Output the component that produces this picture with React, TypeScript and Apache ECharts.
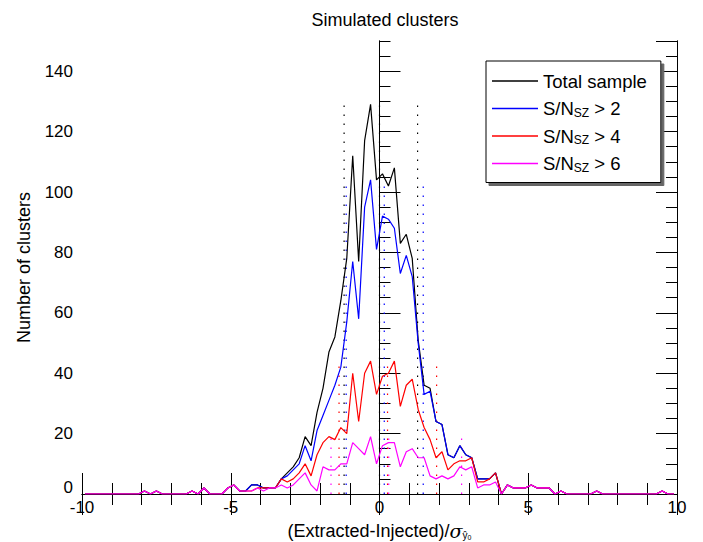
import React, { useEffect, useRef } from "react";
import * as echarts from "echarts";

const FONT = "'Liberation Sans', Arial, Helvetica, sans-serif";

// bin centres of the histogram (bin width 0.2 from -10 to 10)
const binCenters: number[] = Array.from({ length: 100 }, (_, i) => Number((-9.9 + 0.2 * i).toFixed(1)));

const totalSample = [
  0, 0, 0, 0, 0, 0, 0, 0, 0, 0,
  1, 0, 1, 0, 0, 0, 0, 0, 1, 0,
  2, 0, 0, 0, 2, 3, 1, 1, 3, 3,
  2, 2, 2, 5, 7, 9, 12, 19, 16, 27,
  35, 47, 52, 64, 78, 112, 77, 117, 129, 104,
  106, 102, 108, 83, 86, 78, 51, 36, 35, 24,
  23, 13, 12, 16, 13, 12, 5, 5, 5, 7,
  0, 3, 2, 2, 2, 3, 2, 2, 2, 0,
  1, 0, 0, 0, 0, 0, 1, 0, 0, 0,
  0, 0, 0, 0, 0, 0, 0, 1, 0, 0,
];
const snGt2 = [
  0, 0, 0, 0, 0, 0, 0, 0, 0, 0,
  1, 0, 1, 0, 0, 0, 0, 0, 1, 0,
  2, 0, 0, 0, 2, 3, 1, 1, 3, 3,
  2, 2, 2, 5, 6, 8, 10, 16, 11, 21,
  26, 31, 36, 42, 57, 77, 58, 95, 104, 81,
  92, 91, 88, 73, 79, 72, 50, 33, 34, 24,
  23, 13, 12, 16, 13, 12, 5, 5, 5, 7,
  0, 3, 2, 2, 2, 3, 2, 2, 2, 0,
  1, 0, 0, 0, 0, 0, 1, 0, 0, 0,
  0, 0, 0, 0, 0, 0, 0, 1, 0, 0,
];
const snGt4 = [
  0, 0, 0, 0, 0, 0, 0, 0, 0, 0,
  1, 0, 1, 0, 0, 0, 0, 0, 1, 0,
  2, 0, 0, 0, 2, 3, 1, 1, 1, 2,
  2, 2, 2, 5, 4, 5, 7, 10, 6, 13,
  17, 19, 18, 22, 20, 40, 24, 40, 44, 33,
  39, 40, 44, 29, 36, 38, 28, 22, 18, 12,
  14, 8, 10, 11, 11, 12, 4, 4, 5, 7,
  0, 3, 2, 2, 2, 3, 2, 2, 2, 0,
  1, 0, 0, 0, 0, 0, 1, 0, 0, 0,
  0, 0, 0, 0, 0, 0, 0, 1, 0, 0,
];
const snGt6 = [
  0, 0, 0, 0, 0, 0, 0, 0, 0, 0,
  1, 0, 1, 0, 0, 0, 0, 0, 1, 0,
  2, 0, 0, 0, 2, 3, 1, 1, 1, 2,
  1, 2, 2, 3, 2, 3, 5, 7, 3, 1,
  9, 8, 8, 10, 10, 17, 15, 13, 19, 10,
  16, 17, 17, 9, 14, 15, 12, 12, 6, 5,
  6, 5, 6, 9, 8, 9, 2, 3, 3, 4,
  0, 3, 2, 2, 2, 3, 2, 2, 2, 0,
  1, 0, 0, 0, 0, 0, 1, 0, 0, 0,
  0, 0, 0, 0, 0, 0, 0, 1, 0, 0,
];

// positions of the dotted vertical markers (lower, centre, upper) for each sample
const markTotal = [-1.19, 0.0, 1.28];
const markGt2 = [-1.12, 0.16, 1.47];
const markGt4 = [-1.36, 0.27, 1.92];
const markGt6 = [-1.63, 0.31, 2.76];

const seriesNames = ["Total sample", "S/N_SZ > 2", "S/N_SZ > 4", "S/N_SZ > 6"];
const seriesColors = ["#000000", "#0000ff", "#ff0000", "#ff00ff"];
const legendLabels: Record<string, string> = {
  "Total sample": "Total sample",
  "S/N_SZ > 2": "S/N{sub|SZ} > 2",
  "S/N_SZ > 4": "S/N{sub|SZ} > 4",
  "S/N_SZ > 6": "S/N{sub|SZ} > 6",
};

export default function App() {
  const ref = useRef<HTMLDivElement>(null);
  useEffect(() => {
    if (!ref.current) return;
    const chart = echarts.init(ref.current, undefined, { renderer: "svg" });
    const all = [totalSample, snGt2, snGt4, snGt6];
    const marks = [markTotal, markGt2, markGt4, markGt6];

    const dotted: any[] = [];
    marks.forEach((m, k) => {
      const h = Math.max(...all[k]);
      m.forEach((x) => {
        dotted.push({
          type: "line",
          name: "mark" + k,
          data: [[x, 0], [x, h]],
          showSymbol: false,
          silent: true,
          z: 1,
          lineStyle: { color: seriesColors[k], width: 1.2, type: [1.5, 7.5] },
        });
      });
    });

    const hist = all.map((vals, k) => ({
      type: "line",
      name: seriesNames[k],
      data: vals.map((v, i) => [binCenters[i], v]),
      showSymbol: false,
      color: seriesColors[k],
      itemStyle: { color: seriesColors[k] },
      lineStyle: { color: seriesColors[k], width: 1.2 },
      z: 2 + k,
    }));

    const tickStyle = { color: "#000", width: 1 };
    const baseY = {
      type: "value",
      min: 0,
      max: 150,
      splitLine: { show: false },
      axisLine: { show: true, lineStyle: { color: "#000", width: 1 } },
    };

    chart.setOption({
      animation: false,
      title: {
        text: "Simulated clusters",
        left: 380,
        top: 6,
        textAlign: "center",
        textStyle: { fontFamily: FONT, fontSize: 18, fontWeight: "normal", color: "#000" },
      },
      grid: { left: 82, right: 26, top: 41, bottom: 48, containLabel: false, outerBoundsMode: "none" },
      legend: {
        data: seriesNames,
        orient: "vertical",
        left: 486,
        top: 61,
        backgroundColor: "#fff",
        borderColor: "#000",
        borderWidth: 1,
        shadowColor: "#666",
        shadowOffsetX: 3,
        shadowOffsetY: 3,
        shadowBlur: 0,
        padding: [10, 14, 9, 6],
        itemGap: 7.5,
        itemWidth: 46,
        itemHeight: 1.5,
        icon: "rect",
        formatter: (n: string) => legendLabels[n],
        textStyle: {
          fontFamily: FONT,
          fontSize: 18.5,
          color: "#000",
          lineHeight: 20,
          rich: {
            sub: { fontFamily: FONT, fontSize: 12, lineHeight: 10, verticalAlign: "bottom", color: "#000" },
          },
        },
      },
      xAxis: [
        {
          type: "value",
          min: -10,
          max: 10,
          interval: 5,
          position: "bottom",
          splitLine: { show: false },
          axisLine: { show: true, lineStyle: { color: "#000", width: 1 } },
          axisTick: { show: true, inside: true, length: 21, lineStyle: tickStyle },
          minorTick: { show: true, splitNumber: 5, length: 11, lineStyle: tickStyle },
          axisLabel: { fontFamily: FONT, fontSize: 17, color: "#000", margin: 5 },
          name: "(Extracted-Injected)/{s|σ}{sub|ŷ}{sub2|0}",
          nameLocation: "middle",
          nameGap: 24,
          nameTextStyle: {
            fontFamily: FONT,
            fontSize: 18,
            color: "#000",
            lineHeight: 20,
            rich: {
              s: { fontFamily: "'DejaVu Serif', serif", fontSize: 19, fontStyle: "italic", color: "#000", lineHeight: 20 },
              sub: { fontFamily: FONT, fontSize: 10, lineHeight: 8, verticalAlign: "bottom", color: "#000" },
              sub2: { fontFamily: FONT, fontSize: 7, lineHeight: 2, verticalAlign: "bottom", color: "#000" },
            },
          },
        },
        {
          type: "value",
          min: -10,
          max: 10,
          interval: 5,
          position: "top",
          splitLine: { show: false },
          axisLine: { show: true, lineStyle: { color: "#000", width: 1 } },
          axisTick: { show: true, inside: true, length: 21, lineStyle: tickStyle },
          minorTick: { show: true, splitNumber: 5, length: 11, lineStyle: tickStyle },
          axisLabel: { show: false },
        },
      ],
      yAxis: [
        {
          ...baseY,
          interval: 20,
          position: "left",
          axisTick: { show: true, inside: true, length: 21, lineStyle: tickStyle },
          axisLabel: {
            fontFamily: FONT,
            fontSize: 17,
            color: "#000",
            margin: 9,
            showMaxLabel: false,
            formatter: (v: number) => (v === 0 ? "{zero|0}" : String(v)),
            rich: { zero: { fontFamily: FONT, fontSize: 17, color: "#000", padding: [0, 0, 14, 0] } },
          },
          name: "Number of clusters",
          nameLocation: "middle",
          nameGap: 49,
          nameTextStyle: { fontFamily: FONT, fontSize: 18, color: "#000" },
        },
        {
          ...baseY,
          interval: 5,
          position: "left",
          axisTick: { show: true, inside: true, length: 11, lineStyle: tickStyle },
          axisLabel: { show: false },
        },
        {
          ...baseY,
          interval: 20,
          position: "right",
          axisTick: { show: true, inside: true, length: 21, lineStyle: tickStyle },
          axisLabel: { show: false },
        },
        {
          ...baseY,
          interval: 5,
          position: "right",
          axisTick: { show: true, inside: true, length: 11, lineStyle: tickStyle },
          axisLabel: { show: false },
        },
      ],
      series: [...dotted, ...hist],
    });
    return () => chart.dispose();
  }, []);
  return (
    <div
      ref={ref}
      style={{ position: "fixed", left: 0, top: 0, width: 703, height: 542, background: "#fff" }}
    />
  );
}
